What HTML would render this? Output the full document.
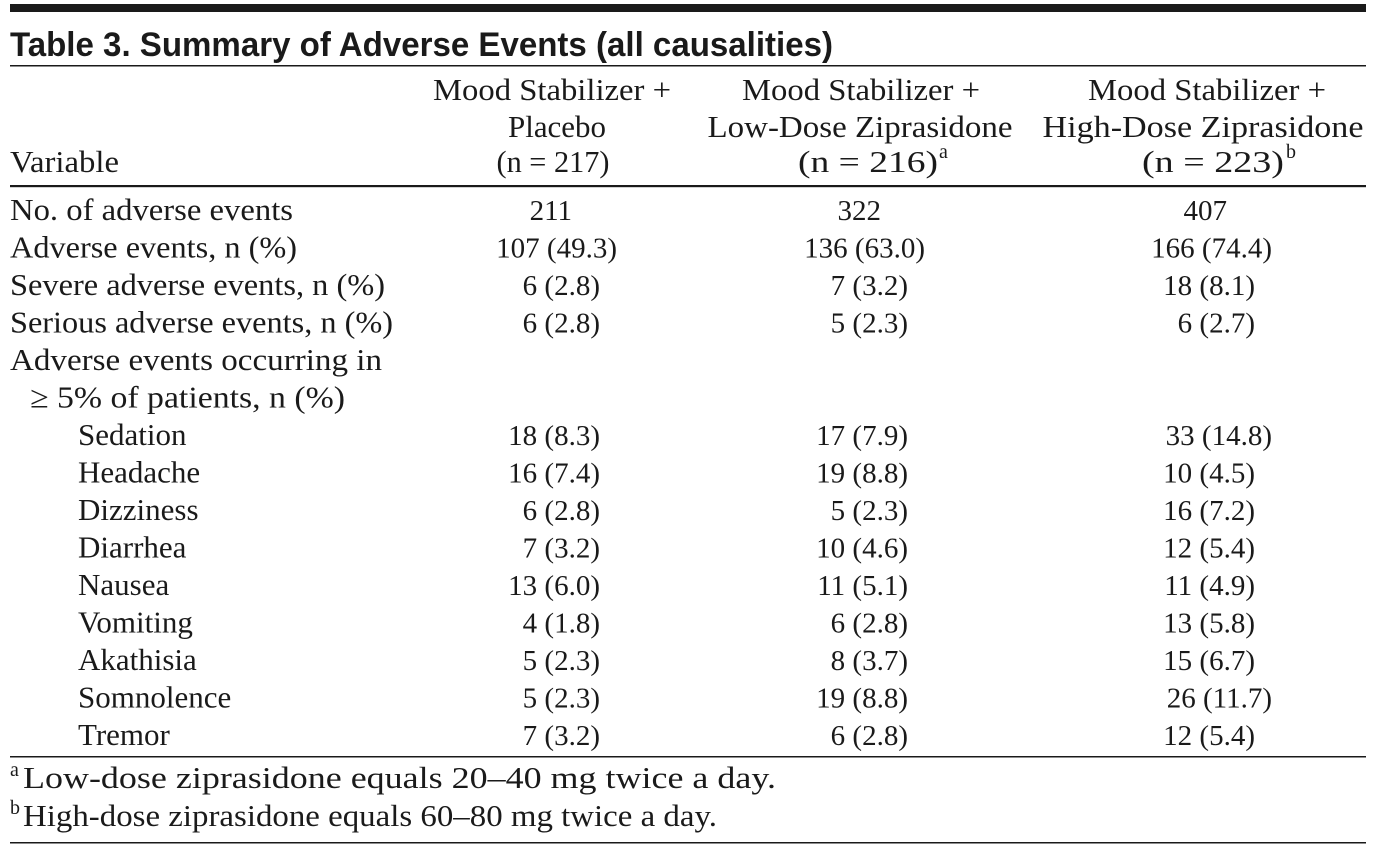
<!DOCTYPE html>
<html><head><meta charset="utf-8"><style>
html,body{margin:0;padding:0;background:#fff;}
svg{display:block;}
.s{font-family:"Liberation Serif",serif;font-size:31px;fill:#1a1a1a;}
.n{font-family:"Liberation Serif",serif;font-size:29px;fill:#1a1a1a;}
.t{font-family:"Liberation Sans",sans-serif;font-size:34px;font-weight:bold;fill:#1a1a1a;}
.sup{font-family:"Liberation Serif",serif;font-size:20px;fill:#1a1a1a;}
</style></head><body>
<svg width="1376" height="850" viewBox="0 0 1376 850">
<rect x="10" y="4" width="1356" height="8" fill="#1a1a1a"/>
<text class="t" x="10" y="56" textLength="823" lengthAdjust="spacingAndGlyphs">Table 3. Summary of Adverse Events (all causalities)</text>
<rect x="10" y="65" width="1356" height="1.5" fill="#1a1a1a"/>
<text class="s" x="552" y="100" text-anchor="middle" textLength="238" lengthAdjust="spacingAndGlyphs">Mood Stabilizer +</text>
<text class="s" x="557" y="137" text-anchor="middle" textLength="98" lengthAdjust="spacingAndGlyphs">Placebo</text>
<text class="s" x="553" y="172" text-anchor="middle" textLength="113" lengthAdjust="spacingAndGlyphs">(n = 217)</text>
<text class="s" x="861" y="100" text-anchor="middle" textLength="238" lengthAdjust="spacingAndGlyphs">Mood Stabilizer +</text>
<text class="s" x="860" y="137" text-anchor="middle" textLength="305" lengthAdjust="spacingAndGlyphs">Low-Dose Ziprasidone</text>
<text class="s" x="798" y="172" textLength="140" lengthAdjust="spacingAndGlyphs">(n = 216)</text><text class="sup" x="939" y="158">a</text>
<text class="s" x="1207" y="100" text-anchor="middle" textLength="238" lengthAdjust="spacingAndGlyphs">Mood Stabilizer +</text>
<text class="s" x="1203" y="137" text-anchor="middle" textLength="321" lengthAdjust="spacingAndGlyphs">High-Dose Ziprasidone</text>
<text class="s" x="1142" y="172" textLength="142" lengthAdjust="spacingAndGlyphs">(n = 223)</text><text class="sup" x="1286" y="158">b</text>
<text class="s" x="10" y="172" textLength="109" lengthAdjust="spacingAndGlyphs">Variable</text>
<rect x="10" y="185" width="1356" height="2.2" fill="#1a1a1a"/>

<g class="s">
<text x="10" y="220" textLength="283" lengthAdjust="spacingAndGlyphs">No. of adverse events</text>
<text x="10" y="257.5" textLength="287" lengthAdjust="spacingAndGlyphs">Adverse events, n (%)</text>
<text x="10" y="295" textLength="375" lengthAdjust="spacingAndGlyphs">Severe adverse events, n (%)</text>
<text x="10" y="332.5" textLength="383" lengthAdjust="spacingAndGlyphs">Serious adverse events, n (%)</text>
<text x="10" y="370" textLength="372" lengthAdjust="spacingAndGlyphs">Adverse events occurring in</text>
<text x="30" y="407.5" textLength="315" lengthAdjust="spacingAndGlyphs">≥ 5% of patients, n (%)</text>
<text x="78" y="445">Sedation</text>
<text x="78" y="482.5">Headache</text>
<text x="78" y="520">Dizziness</text>
<text x="78" y="557.5">Diarrhea</text>
<text x="78" y="595">Nausea</text>
<text x="78" y="632.5">Vomiting</text>
<text x="78" y="670">Akathisia</text>
<text x="78" y="707.5">Somnolence</text>
<text x="78" y="745">Tremor</text>
</g>

<g class="n" text-anchor="end">
<text x="572" y="220">211</text><text x="881" y="220">322</text><text x="1227" y="220">407</text>
<text x="617" y="257.5">107 (49.3)</text><text x="925" y="257.5">136 (63.0)</text><text x="1272" y="257.5">166 (74.4)</text>
<text x="600" y="295">6 (2.8)</text><text x="908" y="295">7 (3.2)</text><text x="1255" y="295">18 (8.1)</text>
<text x="600" y="332.5">6 (2.8)</text><text x="908" y="332.5">5 (2.3)</text><text x="1255" y="332.5">6 (2.7)</text>
<text x="600" y="445">18 (8.3)</text><text x="908" y="445">17 (7.9)</text><text x="1272" y="445">33 (14.8)</text>
<text x="600" y="482.5">16 (7.4)</text><text x="908" y="482.5">19 (8.8)</text><text x="1255" y="482.5">10 (4.5)</text>
<text x="600" y="520">6 (2.8)</text><text x="908" y="520">5 (2.3)</text><text x="1255" y="520">16 (7.2)</text>
<text x="600" y="557.5">7 (3.2)</text><text x="908" y="557.5">10 (4.6)</text><text x="1255" y="557.5">12 (5.4)</text>
<text x="600" y="595">13 (6.0)</text><text x="908" y="595">11 (5.1)</text><text x="1255" y="595">11 (4.9)</text>
<text x="600" y="632.5">4 (1.8)</text><text x="908" y="632.5">6 (2.8)</text><text x="1255" y="632.5">13 (5.8)</text>
<text x="600" y="670">5 (2.3)</text><text x="908" y="670">8 (3.7)</text><text x="1255" y="670">15 (6.7)</text>
<text x="600" y="707.5">5 (2.3)</text><text x="908" y="707.5">19 (8.8)</text><text x="1272" y="707.5">26 (11.7)</text>
<text x="600" y="745">7 (3.2)</text><text x="908" y="745">6 (2.8)</text><text x="1255" y="745">12 (5.4)</text>
</g>

<rect x="10" y="756" width="1356" height="1.5" fill="#1a1a1a"/>
<text class="sup" x="10" y="776">a</text>
<text class="s" x="23" y="788" textLength="753" lengthAdjust="spacingAndGlyphs">Low-dose ziprasidone equals 20–40 mg twice a day.</text>
<text class="sup" x="10" y="814">b</text>
<text class="s" x="23" y="826" textLength="694" lengthAdjust="spacingAndGlyphs">High-dose ziprasidone equals 60–80 mg twice a day.</text>
<rect x="10" y="842" width="1356" height="1.5" fill="#1a1a1a"/>
</svg>
</body></html>
